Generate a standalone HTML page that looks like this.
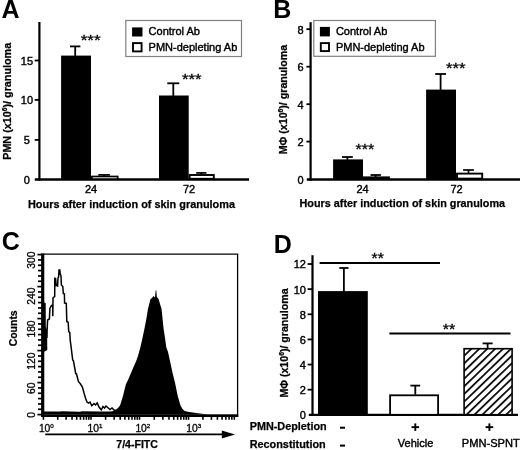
<!DOCTYPE html><html><head><meta charset="utf-8"><style>html,body{margin:0;padding:0;background:#fff}svg{display:block;filter:grayscale(100%)}text{font-family:"Liberation Sans",sans-serif;fill:#000}</style></head><body>
<svg width="520" height="450" viewBox="0 0 520 450">
<defs><pattern id="hatch" width="5.5" height="5.5" patternUnits="userSpaceOnUse" patternTransform="rotate(-44)"><rect x="0" y="0" width="5.5" height="1.7" fill="#000"/></pattern></defs>
<rect width="520" height="450" fill="#fff"/>
<text x="1.6" y="17.5" font-size="25" font-weight="bold" >A</text>
<text x="273.3" y="17.5" font-size="25" font-weight="bold" >B</text>
<text x="1.7" y="249.7" font-size="25" font-weight="bold" >C</text>
<text x="273.7" y="253" font-size="25" font-weight="bold" >D</text>
<line x1="39.4" y1="22" x2="39.4" y2="180.6" stroke="#000" stroke-width="2.2"/>
<line x1="34.8" y1="179.5" x2="249" y2="179.5" stroke="#000" stroke-width="2.3"/>
<line x1="34.7" y1="139.9" x2="39" y2="139.9" stroke="#000" stroke-width="1.8"/>
<line x1="34.7" y1="99.9" x2="39" y2="99.9" stroke="#000" stroke-width="1.8"/>
<line x1="34.7" y1="60.5" x2="39" y2="60.5" stroke="#000" stroke-width="1.8"/>
<text x="26.9" y="183.95" font-size="11" stroke="#000" stroke-width="0.4" text-anchor="middle" >0</text>
<text x="26.9" y="144.04999999999998" font-size="11" stroke="#000" stroke-width="0.4" text-anchor="middle" >5</text>
<text x="26.9" y="103.95" font-size="11" stroke="#000" stroke-width="0.4" text-anchor="middle" >10</text>
<text x="26.9" y="64.55" font-size="11" stroke="#000" stroke-width="0.4" text-anchor="middle" >15</text>
<rect x="61.1" y="55.6" width="29.9" height="123.5" fill="#000"/>
<line x1="75.2" y1="46.4" x2="75.2" y2="56" stroke="#000" stroke-width="1.8"/>
<line x1="70.0" y1="46.4" x2="80.4" y2="46.4" stroke="#000" stroke-width="1.8"/>
<rect x="91.9" y="176.5" width="25.8" height="2.6" fill="#fff" stroke="#000" stroke-width="1.7"/>
<line x1="104.1" y1="174.9" x2="104.1" y2="176" stroke="#000" stroke-width="1.7"/>
<line x1="98.3" y1="174.9" x2="109.89999999999999" y2="174.9" stroke="#000" stroke-width="1.7"/>
<rect x="159" y="95.5" width="29.7" height="83.6" fill="#000"/>
<line x1="173.3" y1="83.3" x2="173.3" y2="96" stroke="#000" stroke-width="1.8"/>
<line x1="167.3" y1="83.3" x2="179.3" y2="83.3" stroke="#000" stroke-width="1.8"/>
<rect x="189.6" y="175" width="24.2" height="3.8" fill="#fff" stroke="#000" stroke-width="1.9"/>
<line x1="201.3" y1="172.9" x2="201.3" y2="174.5" stroke="#000" stroke-width="1.7"/>
<line x1="196.20000000000002" y1="172.9" x2="206.4" y2="172.9" stroke="#000" stroke-width="1.7"/>
<text x="80.7" y="44.9" font-size="15" stroke="#000" stroke-width="0.3" textLength="20" lengthAdjust="spacingAndGlyphs" >***</text>
<text x="181.9" y="84.15" font-size="15" stroke="#000" stroke-width="0.3" textLength="19.6" lengthAdjust="spacingAndGlyphs" >***</text>
<text x="91" y="193" font-size="11" stroke="#000" stroke-width="0.4" text-anchor="middle" >24</text>
<text x="189" y="193" font-size="11" stroke="#000" stroke-width="0.4" text-anchor="middle" >72</text>
<text x="28" y="207.6" font-size="11" font-weight="bold" stroke="#000" stroke-width="0.25" textLength="207" lengthAdjust="spacingAndGlyphs" >Hours after induction of skin granuloma</text>
<text x="10.6" y="159.8" font-size="11" font-weight="bold" stroke="#000" stroke-width="0.25" transform="rotate(-90 10.6 159.8)" textLength="117" lengthAdjust="spacingAndGlyphs" >PMN (x10<tspan font-size="6.8" dy="-3.6">6</tspan><tspan dy="3.6">)/ granuloma</tspan></text>
<rect x="125.8" y="20.5" width="115.7" height="36" fill="#fff" stroke="#808080" stroke-width="1.2"/>
<rect x="132.1" y="27.4" width="10.4" height="9.1" fill="#000"/>
<rect x="133" y="43.1" width="8.6" height="8.3" fill="#fff" stroke="#000" stroke-width="1.9"/>
<text x="148.6" y="35.3" font-size="11" stroke="#000" stroke-width="0.4" >Control Ab</text>
<text x="148.6" y="51.4" font-size="11" stroke="#000" stroke-width="0.4" >PMN-depleting Ab</text>
<line x1="310.6" y1="22.2" x2="310.6" y2="180.7" stroke="#000" stroke-width="2.2"/>
<line x1="306.8" y1="179.5" x2="520" y2="179.5" stroke="#000" stroke-width="2.3"/>
<line x1="306.4" y1="141.6" x2="310.5" y2="141.6" stroke="#000" stroke-width="1.8"/>
<line x1="306.4" y1="104.2" x2="310.5" y2="104.2" stroke="#000" stroke-width="1.8"/>
<line x1="306.4" y1="66.7" x2="310.5" y2="66.7" stroke="#000" stroke-width="1.8"/>
<line x1="306.4" y1="29.2" x2="310.5" y2="29.2" stroke="#000" stroke-width="1.8"/>
<text x="300.6" y="183.95" font-size="11" stroke="#000" stroke-width="0.4" text-anchor="middle" >0</text>
<text x="300.6" y="146.14999999999998" font-size="11" stroke="#000" stroke-width="0.4" text-anchor="middle" >2</text>
<text x="300.6" y="108.65" font-size="11" stroke="#000" stroke-width="0.4" text-anchor="middle" >4</text>
<text x="300.6" y="71.15" font-size="11" stroke="#000" stroke-width="0.4" text-anchor="middle" >6</text>
<text x="300.6" y="33.550000000000004" font-size="11" stroke="#000" stroke-width="0.4" text-anchor="middle" >8</text>
<rect x="313.8" y="20.5" width="121.6" height="35.8" fill="#fff" stroke="#808080" stroke-width="1.2"/>
<rect x="319.9" y="26.9" width="10" height="9.5" fill="#000"/>
<rect x="320.8" y="43.1" width="8.2" height="8" fill="#fff" stroke="#000" stroke-width="1.9"/>
<text x="335.9" y="35.2" font-size="11" stroke="#000" stroke-width="0.4" >Control Ab</text>
<text x="335.9" y="51.2" font-size="11" stroke="#000" stroke-width="0.4" >PMN-depleting Ab</text>
<rect x="333.1" y="159.4" width="29.9" height="20" fill="#000"/>
<line x1="347.4" y1="157" x2="347.4" y2="160" stroke="#000" stroke-width="1.8"/>
<line x1="342.0" y1="157" x2="352.79999999999995" y2="157" stroke="#000" stroke-width="1.8"/>
<rect x="363" y="176.4" width="26.9" height="3.2" fill="#000"/>
<line x1="375.7" y1="175" x2="375.7" y2="177" stroke="#000" stroke-width="1.8"/>
<line x1="370.5" y1="175" x2="380.9" y2="175" stroke="#000" stroke-width="1.8"/>
<rect x="426.1" y="89.6" width="29.9" height="90" fill="#000"/>
<line x1="440.6" y1="74" x2="440.6" y2="90" stroke="#000" stroke-width="1.8"/>
<line x1="435.20000000000005" y1="74" x2="446.0" y2="74" stroke="#000" stroke-width="1.8"/>
<rect x="457" y="173.6" width="25.2" height="5" fill="#fff" stroke="#000" stroke-width="1.9"/>
<line x1="468.5" y1="170" x2="468.5" y2="173" stroke="#000" stroke-width="1.7"/>
<line x1="463.1" y1="170" x2="473.9" y2="170" stroke="#000" stroke-width="1.7"/>
<text x="355.5" y="153.8" font-size="15" stroke="#000" stroke-width="0.3" textLength="18.8" lengthAdjust="spacingAndGlyphs" >***</text>
<text x="445.9" y="72.85" font-size="15" stroke="#000" stroke-width="0.3" textLength="19.6" lengthAdjust="spacingAndGlyphs" >***</text>
<text x="362.5" y="192.7" font-size="11" stroke="#000" stroke-width="0.4" text-anchor="middle" >24</text>
<text x="456.5" y="192.6" font-size="11" stroke="#000" stroke-width="0.4" text-anchor="middle" >72</text>
<text x="299.5" y="207.1" font-size="11" font-weight="bold" stroke="#000" stroke-width="0.25" textLength="205.6" lengthAdjust="spacingAndGlyphs" >Hours after induction of skin granuloma</text>
<text x="286.8" y="154.3" font-size="10.7" font-weight="bold" stroke="#000" stroke-width="0.25" transform="rotate(-90 286.8 154.3)" textLength="109.5" lengthAdjust="spacingAndGlyphs" >M&#934; (x10<tspan font-size="6.8" dy="-3.6">6</tspan><tspan dy="3.6">)/ granuloma</tspan></text>
<line x1="42.7" y1="253.6" x2="42.7" y2="417" stroke="#000" stroke-width="3.2"/>
<line x1="41.2" y1="254.2" x2="238.2" y2="254.2" stroke="#000" stroke-width="1.3"/>
<line x1="237.6" y1="254" x2="237.6" y2="417" stroke="#000" stroke-width="1.3"/>
<rect x="41.2" y="414.3" width="197" height="2.7" fill="#000"/>
<polygon points="43,411.4 60,411.6 62,411.2 80,411.7 82,411.2 100,411.5 186,411.6 196,413 208,414.5 43,414.5" fill="#000"/>
<line x1="37.4" y1="254.6" x2="42" y2="254.6" stroke="#000" stroke-width="1.7"/>
<line x1="38.0" y1="259.93333333333334" x2="42" y2="259.93333333333334" stroke="#000" stroke-width="1.7"/>
<line x1="38.0" y1="265.26666666666665" x2="42" y2="265.26666666666665" stroke="#000" stroke-width="1.7"/>
<line x1="38.0" y1="270.6" x2="42" y2="270.6" stroke="#000" stroke-width="1.7"/>
<line x1="38.0" y1="275.93333333333334" x2="42" y2="275.93333333333334" stroke="#000" stroke-width="1.7"/>
<line x1="38.0" y1="281.26666666666665" x2="42" y2="281.26666666666665" stroke="#000" stroke-width="1.7"/>
<line x1="37.4" y1="286.6" x2="42" y2="286.6" stroke="#000" stroke-width="1.7"/>
<line x1="38.0" y1="291.93333333333334" x2="42" y2="291.93333333333334" stroke="#000" stroke-width="1.7"/>
<line x1="38.0" y1="297.26666666666665" x2="42" y2="297.26666666666665" stroke="#000" stroke-width="1.7"/>
<line x1="38.0" y1="302.6" x2="42" y2="302.6" stroke="#000" stroke-width="1.7"/>
<line x1="38.0" y1="307.93333333333334" x2="42" y2="307.93333333333334" stroke="#000" stroke-width="1.7"/>
<line x1="38.0" y1="313.26666666666665" x2="42" y2="313.26666666666665" stroke="#000" stroke-width="1.7"/>
<line x1="37.4" y1="318.6" x2="42" y2="318.6" stroke="#000" stroke-width="1.7"/>
<line x1="38.0" y1="323.93333333333334" x2="42" y2="323.93333333333334" stroke="#000" stroke-width="1.7"/>
<line x1="38.0" y1="329.26666666666665" x2="42" y2="329.26666666666665" stroke="#000" stroke-width="1.7"/>
<line x1="38.0" y1="334.6" x2="42" y2="334.6" stroke="#000" stroke-width="1.7"/>
<line x1="38.0" y1="339.93333333333334" x2="42" y2="339.93333333333334" stroke="#000" stroke-width="1.7"/>
<line x1="38.0" y1="345.26666666666665" x2="42" y2="345.26666666666665" stroke="#000" stroke-width="1.7"/>
<line x1="37.4" y1="350.6" x2="42" y2="350.6" stroke="#000" stroke-width="1.7"/>
<line x1="38.0" y1="355.93333333333334" x2="42" y2="355.93333333333334" stroke="#000" stroke-width="1.7"/>
<line x1="38.0" y1="361.26666666666665" x2="42" y2="361.26666666666665" stroke="#000" stroke-width="1.7"/>
<line x1="38.0" y1="366.6" x2="42" y2="366.6" stroke="#000" stroke-width="1.7"/>
<line x1="38.0" y1="371.93333333333334" x2="42" y2="371.93333333333334" stroke="#000" stroke-width="1.7"/>
<line x1="38.0" y1="377.26666666666665" x2="42" y2="377.26666666666665" stroke="#000" stroke-width="1.7"/>
<line x1="37.4" y1="382.6" x2="42" y2="382.6" stroke="#000" stroke-width="1.7"/>
<line x1="38.0" y1="387.9333333333333" x2="42" y2="387.9333333333333" stroke="#000" stroke-width="1.7"/>
<line x1="38.0" y1="393.26666666666665" x2="42" y2="393.26666666666665" stroke="#000" stroke-width="1.7"/>
<line x1="38.0" y1="398.6" x2="42" y2="398.6" stroke="#000" stroke-width="1.7"/>
<line x1="38.0" y1="403.9333333333333" x2="42" y2="403.9333333333333" stroke="#000" stroke-width="1.7"/>
<line x1="38.0" y1="409.26666666666665" x2="42" y2="409.26666666666665" stroke="#000" stroke-width="1.7"/>
<line x1="37.4" y1="414.6" x2="42" y2="414.6" stroke="#000" stroke-width="1.7"/>
<text x="35" y="251.5" font-size="10.3" stroke="#000" stroke-width="0.3" text-anchor="end" transform="rotate(-90 35 251.5)" >300</text>
<text x="35" y="287.5" font-size="10.3" stroke="#000" stroke-width="0.3" text-anchor="end" transform="rotate(-90 35 287.5)" >240</text>
<text x="35" y="320.4" font-size="10.3" stroke="#000" stroke-width="0.3" text-anchor="end" transform="rotate(-90 35 320.4)" >180</text>
<text x="35" y="352.6" font-size="10.3" stroke="#000" stroke-width="0.3" text-anchor="end" transform="rotate(-90 35 352.6)" >120</text>
<text x="35" y="382.5" font-size="10.3" stroke="#000" stroke-width="0.3" text-anchor="end" transform="rotate(-90 35 382.5)" >60</text>
<text x="35" y="412" font-size="10.3" stroke="#000" stroke-width="0.3" text-anchor="end" transform="rotate(-90 35 412)" >0</text>
<text x="16.9" y="346.3" font-size="11" font-weight="bold" stroke="#000" stroke-width="0.25" transform="rotate(-90 16.9 346.3)" textLength="36" lengthAdjust="spacingAndGlyphs" >Counts</text>
<line x1="43.4" y1="416.5" x2="43.4" y2="419.8" stroke="#000" stroke-width="1.6"/>
<line x1="57.7290277936055" y1="416.5" x2="57.7290277936055" y2="419.8" stroke="#000" stroke-width="1.6"/>
<line x1="66.11097172465594" y1="416.5" x2="66.11097172465594" y2="419.8" stroke="#000" stroke-width="1.6"/>
<line x1="72.05805558721102" y1="416.5" x2="72.05805558721102" y2="419.8" stroke="#000" stroke-width="1.6"/>
<line x1="76.6709722063945" y1="416.5" x2="76.6709722063945" y2="419.8" stroke="#000" stroke-width="1.6"/>
<line x1="80.43999951826143" y1="416.5" x2="80.43999951826143" y2="419.8" stroke="#000" stroke-width="1.6"/>
<line x1="83.62666670467863" y1="416.5" x2="83.62666670467863" y2="419.8" stroke="#000" stroke-width="1.6"/>
<line x1="86.3870833808165" y1="416.5" x2="86.3870833808165" y2="419.8" stroke="#000" stroke-width="1.6"/>
<line x1="88.82194344931187" y1="416.5" x2="88.82194344931187" y2="419.8" stroke="#000" stroke-width="1.6"/>
<line x1="91.0" y1="416.5" x2="91.0" y2="419.8" stroke="#000" stroke-width="1.6"/>
<line x1="105.59995478970309" y1="416.5" x2="105.59995478970309" y2="419.8" stroke="#000" stroke-width="1.6"/>
<line x1="114.14038085390362" y1="416.5" x2="114.14038085390362" y2="419.8" stroke="#000" stroke-width="1.6"/>
<line x1="120.19990957940618" y1="416.5" x2="120.19990957940618" y2="419.8" stroke="#000" stroke-width="1.6"/>
<line x1="124.90004521029692" y1="416.5" x2="124.90004521029692" y2="419.8" stroke="#000" stroke-width="1.6"/>
<line x1="128.74033564360673" y1="416.5" x2="128.74033564360673" y2="419.8" stroke="#000" stroke-width="1.6"/>
<line x1="131.98725494069146" y1="416.5" x2="131.98725494069146" y2="419.8" stroke="#000" stroke-width="1.6"/>
<line x1="134.79986436910926" y1="416.5" x2="134.79986436910926" y2="419.8" stroke="#000" stroke-width="1.6"/>
<line x1="137.28076170780724" y1="416.5" x2="137.28076170780724" y2="419.8" stroke="#000" stroke-width="1.6"/>
<line x1="139.5" y1="416.5" x2="139.5" y2="419.8" stroke="#000" stroke-width="1.6"/>
<line x1="154.25046978753508" y1="416.5" x2="154.25046978753508" y2="419.8" stroke="#000" stroke-width="1.6"/>
<line x1="162.87894148126347" y1="416.5" x2="162.87894148126347" y2="419.8" stroke="#000" stroke-width="1.6"/>
<line x1="169.00093957507016" y1="416.5" x2="169.00093957507016" y2="419.8" stroke="#000" stroke-width="1.6"/>
<line x1="173.74953021246492" y1="416.5" x2="173.74953021246492" y2="419.8" stroke="#000" stroke-width="1.6"/>
<line x1="177.62941126879855" y1="416.5" x2="177.62941126879855" y2="419.8" stroke="#000" stroke-width="1.6"/>
<line x1="180.90980396069858" y1="416.5" x2="180.90980396069858" y2="419.8" stroke="#000" stroke-width="1.6"/>
<line x1="183.75140936260522" y1="416.5" x2="183.75140936260522" y2="419.8" stroke="#000" stroke-width="1.6"/>
<line x1="186.25788296252693" y1="416.5" x2="186.25788296252693" y2="419.8" stroke="#000" stroke-width="1.6"/>
<line x1="188.5" y1="416.5" x2="188.5" y2="419.8" stroke="#000" stroke-width="1.6"/>
<line x1="202.9494397918711" y1="416.5" x2="202.9494397918711" y2="419.8" stroke="#000" stroke-width="1.6"/>
<line x1="211.4018202265438" y1="416.5" x2="211.4018202265438" y2="419.8" stroke="#000" stroke-width="1.6"/>
<line x1="217.3988795837422" y1="416.5" x2="217.3988795837422" y2="419.8" stroke="#000" stroke-width="1.6"/>
<line x1="222.0505602081289" y1="416.5" x2="222.0505602081289" y2="419.8" stroke="#000" stroke-width="1.6"/>
<line x1="225.8512600184149" y1="416.5" x2="225.8512600184149" y2="419.8" stroke="#000" stroke-width="1.6"/>
<line x1="229.06470592068433" y1="416.5" x2="229.06470592068433" y2="419.8" stroke="#000" stroke-width="1.6"/>
<line x1="231.8483193756133" y1="416.5" x2="231.8483193756133" y2="419.8" stroke="#000" stroke-width="1.6"/>
<line x1="234.3036404530876" y1="416.5" x2="234.3036404530876" y2="419.8" stroke="#000" stroke-width="1.6"/>
<text x="38.9" y="431.6" font-size="10.3" stroke="#000" stroke-width="0.3" >10<tspan font-size="6.2" dy="-3.4">0</tspan></text>
<text x="87.5" y="431.6" font-size="10.3" stroke="#000" stroke-width="0.3" >10<tspan font-size="6.2" dy="-3.4">1</tspan></text>
<text x="135.4" y="431.6" font-size="10.3" stroke="#000" stroke-width="0.3" >10<tspan font-size="6.2" dy="-3.4">2</tspan></text>
<text x="186.3" y="431.6" font-size="10.3" stroke="#000" stroke-width="0.3" >10<tspan font-size="6.2" dy="-3.4">3</tspan></text>
<line x1="45.2" y1="434.4" x2="224" y2="434.4" stroke="#000" stroke-width="1.6"/>
<polygon points="221.8,430.5 235,434.4 221.8,438.5" fill="#000"/>
<text x="116.3" y="448.3" font-size="10.6" font-weight="bold" stroke="#000" stroke-width="0.25" textLength="41.6" lengthAdjust="spacingAndGlyphs" >7/4-FITC</text>
<polygon points="42,298 43.8,298 44.2,302.5 45.7,303.2 45.8,327 47.1,330 47.3,350 44.4,351.5 42,352" fill="#000"/>
<polyline fill="none" stroke="#000" stroke-width="1.5" stroke-linejoin="miter" points="46.9,338 47.1,330 47.6,320 49.4,319 49.9,308.5 51.4,305.6 52.7,305 52.8,316.2 53,298 53.8,297 54.7,296.6 54.8,278.3 55.6,278.5 56.2,285.5 57.6,286 58,278 58.6,277 59,270 59.8,270 60.3,274.5 60.9,275 61.4,285 62.8,286.5 63.3,293.5 64.4,294 64.6,303 66.3,303.3 66.8,321.5 68.2,322.4 68.7,331.6 69.8,332.5 70.2,340 71,346 72.7,360 73.5,361 75.7,373.5 76.5,374 78.4,381.5 80.5,384 82.4,387 84,393 85.8,399 87,402 88.5,403 90,402 91.8,405.8 94,403.5 95.5,405 97.2,403 99,407 101.3,409.8 103,406.5 104.5,408 106,406 108,407.8 110,409.5 112,408 114,410 117,411"/>
<polygon fill="#000" points="100,414 108,412.5 114,411 118,408 120,405.4 123,396 125.8,384.6 128,380 131,373 133.5,367 136,361.5 138,356 139.6,350 140.4,347.3 142.5,338 144.6,328 146.5,318 148,308.8 149.5,303 150.4,299.2 152,298 153.5,296 155,297.5 155.6,291 156.2,289.8 156.9,297 158.7,299.2 160,304 161.5,308.8 162.5,318 163.5,328 165,338 166.3,347.3 168,352 170,361 172.6,373 175.4,384.6 177.7,396 180.5,405.4 182.5,409 185,411.3 190,413 195,414.3"/>
<line x1="312.5" y1="255.2" x2="312.5" y2="416" stroke="#000" stroke-width="2.2"/>
<line x1="308.8" y1="414.8" x2="518" y2="414.8" stroke="#000" stroke-width="2.3"/>
<text x="305.9" y="419.15" font-size="11" stroke="#000" stroke-width="0.4" text-anchor="end" >0</text>
<line x1="307.6" y1="389.67" x2="312" y2="389.67" stroke="#000" stroke-width="1.8"/>
<text x="305.9" y="394.02" font-size="11" stroke="#000" stroke-width="0.4" text-anchor="end" >2</text>
<line x1="307.6" y1="364.54" x2="312" y2="364.54" stroke="#000" stroke-width="1.8"/>
<text x="305.9" y="368.89" font-size="11" stroke="#000" stroke-width="0.4" text-anchor="end" >4</text>
<line x1="307.6" y1="339.41" x2="312" y2="339.41" stroke="#000" stroke-width="1.8"/>
<text x="305.9" y="343.76" font-size="11" stroke="#000" stroke-width="0.4" text-anchor="end" >6</text>
<line x1="307.6" y1="314.28000000000003" x2="312" y2="314.28000000000003" stroke="#000" stroke-width="1.8"/>
<text x="305.9" y="318.63" font-size="11" stroke="#000" stroke-width="0.4" text-anchor="end" >8</text>
<line x1="307.6" y1="289.15000000000003" x2="312" y2="289.15000000000003" stroke="#000" stroke-width="1.8"/>
<text x="305.9" y="293.5" font-size="11" stroke="#000" stroke-width="0.4" text-anchor="end" >10</text>
<line x1="307.6" y1="264.02" x2="312" y2="264.02" stroke="#000" stroke-width="1.8"/>
<text x="305.9" y="268.36999999999995" font-size="11" stroke="#000" stroke-width="0.4" text-anchor="end" >12</text>
<rect x="318" y="291.1" width="49.8" height="124" fill="#000"/>
<line x1="343.9" y1="268" x2="343.9" y2="292" stroke="#000" stroke-width="1.8"/>
<line x1="339.29999999999995" y1="268" x2="348.5" y2="268" stroke="#000" stroke-width="1.8"/>
<rect x="390.1" y="395.3" width="48" height="19.5" fill="#fff" stroke="#000" stroke-width="1.8"/>
<line x1="415.3" y1="385.6" x2="415.3" y2="394.6" stroke="#000" stroke-width="1.8"/>
<line x1="410.40000000000003" y1="385.6" x2="420.2" y2="385.6" stroke="#000" stroke-width="1.8"/>
<rect x="464.1" y="348.7" width="48" height="66" fill="#fff"/>
<rect x="464.1" y="348.7" width="48" height="66" fill="url(#hatch)" stroke="#000" stroke-width="1.6"/>
<line x1="487.6" y1="343.4" x2="487.6" y2="348.5" stroke="#000" stroke-width="1.8"/>
<line x1="482.6" y1="343.4" x2="492.6" y2="343.4" stroke="#000" stroke-width="1.8"/>
<line x1="319.6" y1="262.9" x2="440" y2="262.9" stroke="#000" stroke-width="2"/>
<line x1="389.4" y1="333.5" x2="510.5" y2="333.5" stroke="#000" stroke-width="2"/>
<text x="371.6" y="262.85" font-size="14.5" stroke="#000" stroke-width="0.3" textLength="12.3" lengthAdjust="spacingAndGlyphs" >**</text>
<text x="442.7" y="334.15" font-size="14.5" stroke="#000" stroke-width="0.3" textLength="12.5" lengthAdjust="spacingAndGlyphs" >**</text>
<text x="287.9" y="397.6" font-size="10.7" font-weight="bold" stroke="#000" stroke-width="0.25" transform="rotate(-90 287.9 397.6)" textLength="109.2" lengthAdjust="spacingAndGlyphs" >M&#934; (x10<tspan font-size="6.8" dy="-3.6">6</tspan><tspan dy="3.6">)/ granuloma</tspan></text>
<text x="249.7" y="430.2" font-size="11" font-weight="bold" stroke="#000" stroke-width="0.25" textLength="77" lengthAdjust="spacingAndGlyphs" >PMN-Depletion</text>
<text x="249.7" y="448.4" font-size="11" font-weight="bold" stroke="#000" stroke-width="0.25" textLength="76" lengthAdjust="spacingAndGlyphs" >Reconstitution</text>
<rect x="340" y="426.7" width="5" height="2" fill="#000"/>
<rect x="340" y="444.6" width="5" height="2" fill="#000"/>
<rect x="411.5" y="426.2" width="7.6" height="1.9" fill="#000"/>
<rect x="414.35" y="423.4" width="1.9" height="7.5" fill="#000"/>
<rect x="485.59999999999997" y="426.2" width="7.6" height="1.9" fill="#000"/>
<rect x="488.45" y="423.4" width="1.9" height="7.5" fill="#000"/>
<text x="397.8" y="447.3" font-size="11" stroke="#000" stroke-width="0.4" >Vehicle</text>
<text x="461.8" y="447.3" font-size="11" stroke="#000" stroke-width="0.4" textLength="58" lengthAdjust="spacingAndGlyphs" >PMN-SPNT</text>
</svg></body></html>
